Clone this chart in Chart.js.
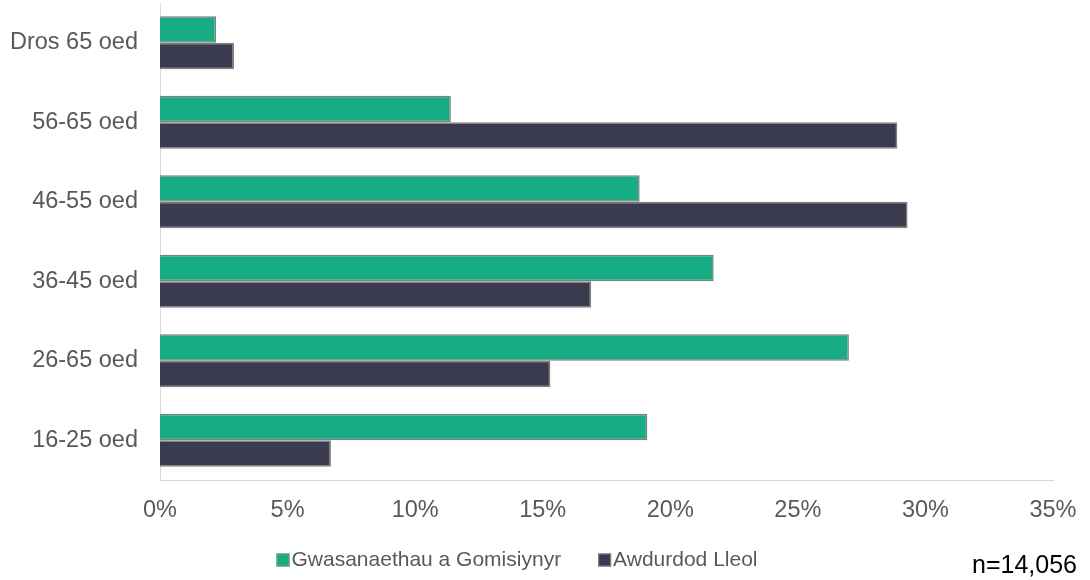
<!DOCTYPE html>
<html>
<head>
<meta charset="utf-8">
<script src="https://cdn.jsdelivr.net/npm/chart.js@4/dist/chart.umd.min.js"></script>
<style>
  html, body { margin: 0; padding: 0; background: #ffffff; }
  #wrap { width: 1090px; height: 580px; position: relative; }
</style>
</head>
<body>
<div id="wrap"><canvas id="c" width="1090" height="580"></canvas></div>
<script>
const categories = ['Dros 65 oed', '56-65 oed', '46-55 oed', '36-45 oed', '26-65 oed', '16-25 oed'];
const seriesNames = ['Gwasanaethau a Gomisiynyr', 'Awdurdod Lleol'];
const commissioned = [2.2, 11.4, 18.8, 21.7, 27.0, 19.1];
const localAuthority = [2.9, 28.9, 29.3, 16.9, 15.3, 6.7];
const xTicks = [0, 5, 10, 15, 20, 25, 30, 35];
const sampleNote = 'n=14,056';

const FONT = "'Liberation Sans', Arial, sans-serif";
const TXT = '#595959';

const legendPlugin = {
  id: 'customLegend',
  afterDraw(chart) {
    const ctx = chart.ctx;
    ctx.save();
    ctx.font = '21px ' + FONT;
    ctx.textBaseline = 'middle';
    const box = 13, gapText = 2, gapItem = 37, y = 560;
    const items = chart.data.datasets.map(d => ({ text: d.label, color: d.backgroundColor }));
    let total = 0;
    items.forEach((it, i) => {
      total += box + gapText + ctx.measureText(it.text).width;
      if (i < items.length - 1) total += gapItem;
    });
    let x = 517 - total / 2;
    items.forEach(it => {
      ctx.fillStyle = it.color;
      ctx.fillRect(x, y - box / 2, box, box);
      ctx.strokeStyle = '#8c8c8c';
      ctx.lineWidth = 1;
      ctx.strokeRect(x + 0.5, y - box / 2 + 0.5, box - 1, box - 1);
      ctx.fillStyle = TXT;
      ctx.textAlign = 'left';
      ctx.fillText(it.text, x + box + gapText, y);
      x += box + gapText + ctx.measureText(it.text).width + gapItem;
    });
    ctx.font = '25px ' + FONT;
    ctx.fillStyle = '#000000';
    ctx.textAlign = 'right';
    ctx.fillText(sampleNote, 1077, 566);
    ctx.restore();
  }
};

new Chart(document.getElementById('c'), {
  type: 'bar',
  data: {
    labels: categories,
    datasets: [
      { label: seriesNames[0], data: commissioned, backgroundColor: '#17AC84', borderColor: '#7f7f7f', borderWidth: 1.5 },
      { label: seriesNames[1], data: localAuthority, backgroundColor: '#3A3B4E', borderColor: '#7f7f7f', borderWidth: 1.5 }
    ]
  },
  options: {
    indexAxis: 'y',
    responsive: false,
    animation: false,
    devicePixelRatio: 1,
    layout: { padding: { top: 3, right: 37, left: 0, bottom: 0 } },
    datasets: { bar: { categoryPercentage: 0.667, barPercentage: 1.0 } },
    plugins: { legend: { display: false }, tooltip: { enabled: false } },
    scales: {
      x: {
        min: 0, max: 35,
        afterBuildTicks(scale) { scale.ticks = xTicks.map(v => ({ value: v })); },
        afterFit(scale) { scale.height = 100; scale.paddingLeft = 0; scale.paddingRight = 0; },
        grid: { display: false, drawTicks: false },
        border: { display: true, color: '#d9d9d9', width: 1 },
        ticks: {
          color: TXT, font: { family: FONT, size: 23.5 }, padding: 16,
          callback: v => v + '%'
        }
      },
      y: {
        afterFit(scale) { scale.width = 160; scale.paddingTop = 0; scale.paddingBottom = 0; },
        grid: { display: false, drawTicks: false },
        border: { display: true, color: '#d9d9d9', width: 1 },
        ticks: { color: TXT, font: { family: FONT, size: 23.5 }, padding: 22 }
      }
    }
  },
  plugins: [legendPlugin]
});
</script>
</body>
</html>
